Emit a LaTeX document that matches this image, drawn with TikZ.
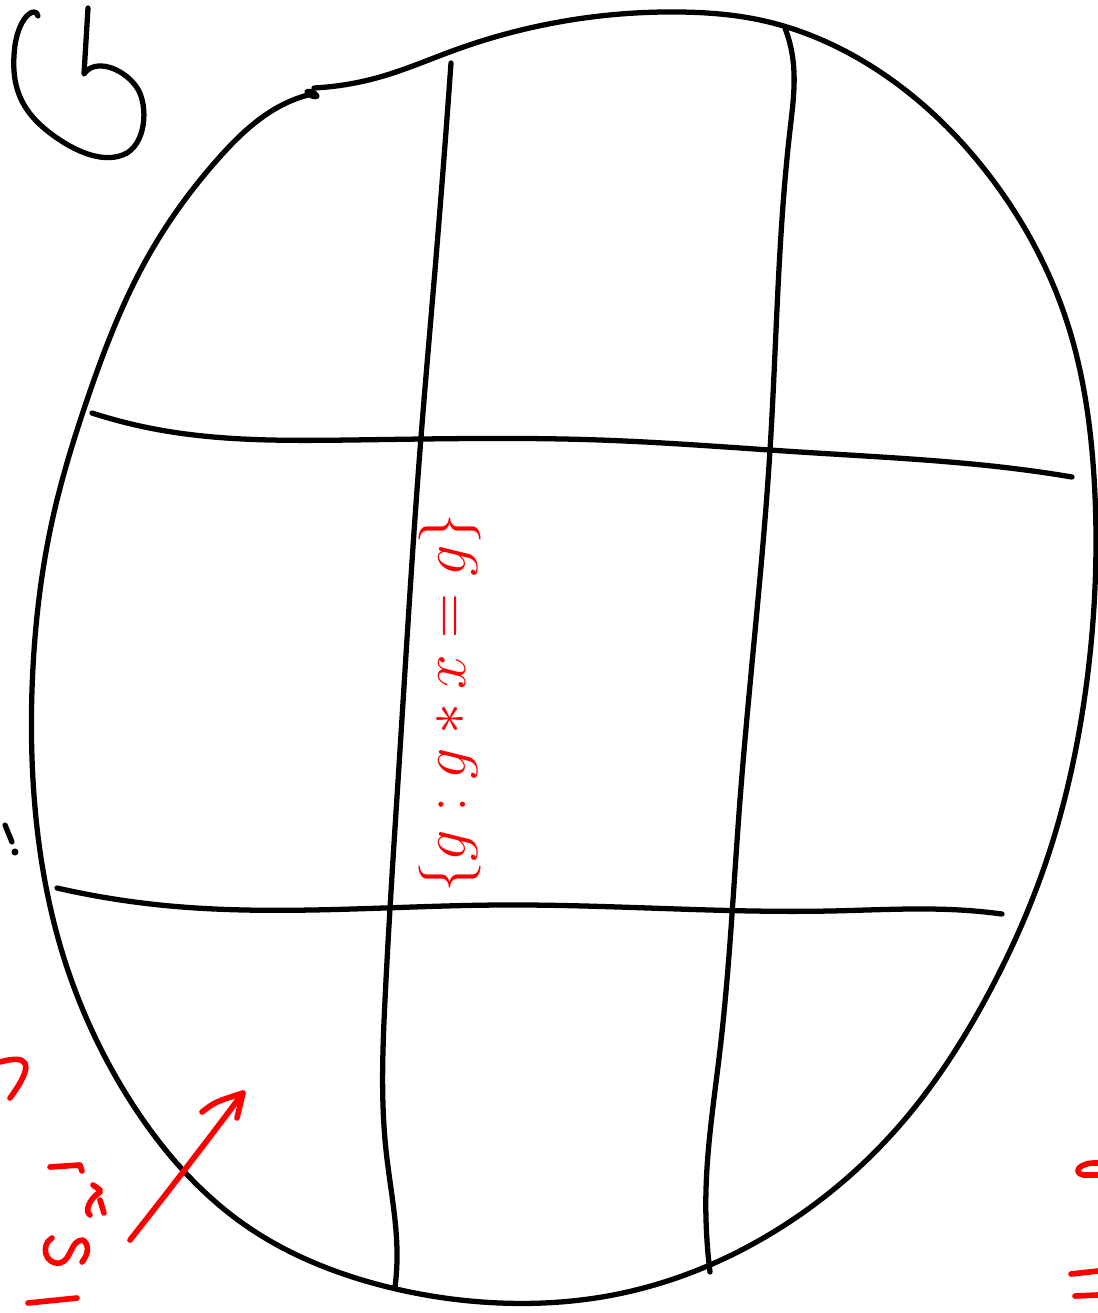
\documentclass[tikz,border=0pt]{standalone}
\usetikzlibrary{hobby}
\begin{document}
\begin{tikzpicture}[x=0.2mm,y=-0.2mm,use Hobby shortcut,
  ink/.style={line width=3pt,line cap=round,line join=round,black},
  redink/.style={line width=3.2pt,line cap=round,line join=round,red}]
\useasboundingbox (0,0) rectangle (1098,1313);
% digit 6
\draw[ink] (38,16) .. controls (36,6) and (20,14) .. (15,45) .. controls (10,85) and (20,110) .. (50,133) .. controls (75,152) and (105,165) .. (127,153) .. controls (148,140) and (148,100) .. (135,85) .. controls (122,68) and (95,58) .. (84,74) -- (88,8);
% blob outline
\draw[ink] (314,88) .. (380,77) .. (455,50) .. (600,16) .. (680,12) .. (760,20) .. (900,86) .. (1000,190) .. (1067,322) .. (1094,477) .. (1087,680) .. (1047,859) .. (985,1000) .. (900,1125) .. (780,1228) .. (613,1295) .. (500,1303) .. (380,1285) .. (245,1225) .. (133,1105) .. (60,945) .. (33,780) .. (33,667) .. (53,517) .. (87,400) .. (150,253) .. (217,160) .. (293,100) .. (308,95);
\fill[rotate around={-25:(312,94)}] (312,94) ellipse (8 and 4.5);
% vertical lines
\draw[ink] (451,63) .. (435,270) .. (420,450) .. (400,750) .. (385,1000) .. (386,1150) .. (397,1260) .. (395,1287);
\draw[ink] (785,28) .. (793,60) .. (790,130) .. (770,450) .. (740,800) .. (720,1050) .. (706,1190) .. (710,1272);
% horizontal lines
\draw[ink] (92,413) .. (160,430) .. (350,440) .. (600,440) .. (800,452) .. (1040,472) .. (1072,477);
\draw[ink] (57,888) .. (160,905) .. (500,905) .. (830,911) .. (960,910) .. (1002,914);
% small mark at left
\draw[ink] (5,825) -- (12,842);
\fill (15,852) circle (3.5);
% red rotated text
\node[red,rotate=90,inner sep=0pt,scale=1.42] (stab) at (450,703) {\Huge $\{g : g * x = g\}$};
% red arrow
\draw[redink] (130,1240) .. (183,1172) .. (243,1093);
\draw[redink] (202,1112) .. controls (215,1102) .. (243,1093) -- (237,1118);
% red fragments at bottom left
\draw[redink] (0,1062) .. controls (25,1055) and (38,1060) .. (10,1098);
\draw[redink] (50,1167) -- (80,1165) -- (82,1171);
\draw[redink] (93,1185) -- (100,1190);
\draw[redink] (100,1192) .. controls (88,1200) and (85,1212) .. (90,1215);
\draw[redink] (100,1200) -- (104,1213);
\draw[redink] (52,1238) .. controls (40,1245) and (45,1265) .. (60,1263) .. controls (72,1260) and (70,1240) .. (83,1240) .. controls (90,1245) and (88,1255) .. (82,1262);
\draw[redink] (28,1303) -- (77,1298);
% red fragments at right
\draw[redink] (1098,1163) .. controls (1080,1162) and (1072,1172) .. (1083,1175) -- (1098,1175);
\draw[redink] (1071,1274) -- (1098,1271);
\draw[redink] (1075,1296) -- (1098,1295);
\end{tikzpicture}
\end{document}
